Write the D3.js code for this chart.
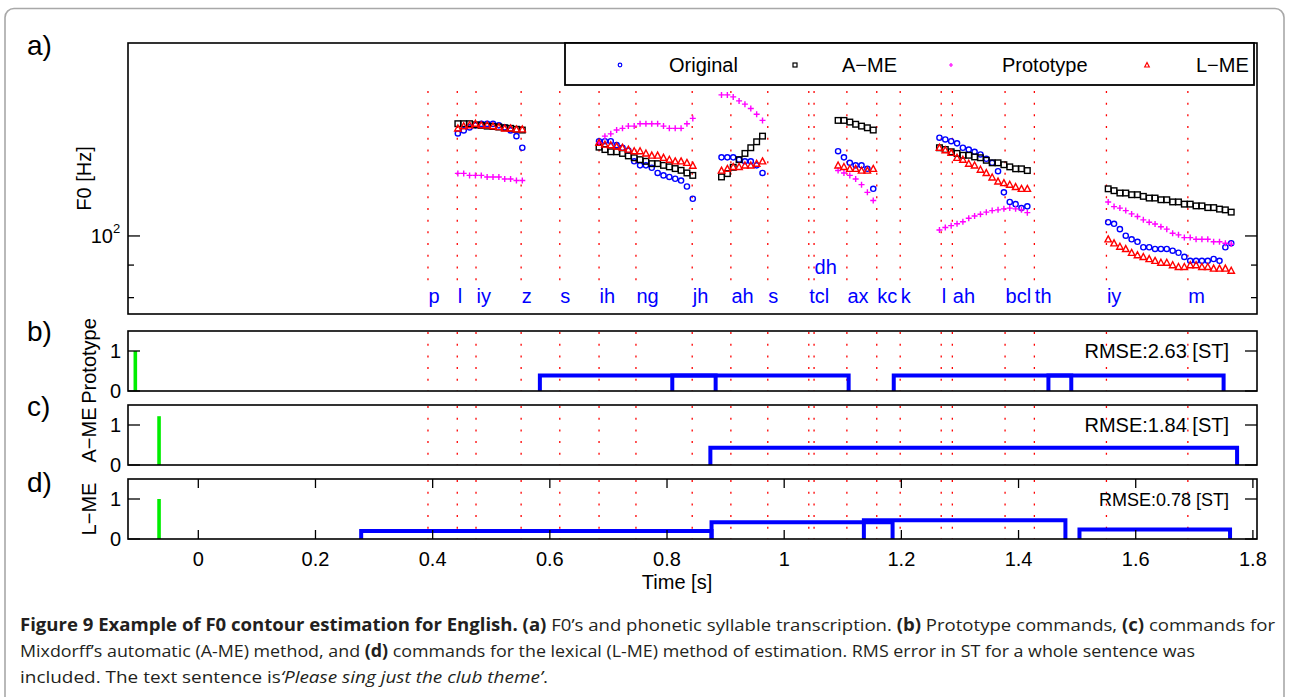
<!DOCTYPE html>
<html><head><meta charset="utf-8">
<script src="https://cdn.jsdelivr.net/npm/d3@7"></script>
<style>body{margin:0;background:#fff}svg{display:block}</style>
</head><body>
<svg id="fig" width="1290" height="697"></svg>
<script>
// ---------------- data ----------------
const boundaries = [0.392,0.442,0.474,0.551,0.617,0.684,0.747,0.843,0.909,0.972,1.042,1.051,1.107,1.158,1.198,1.268,1.287,1.377,1.427,1.550,1.689];
const phoneLabels = ["p","l","iy","z","s","ih","ng","jh","ah","s","tcl","dh","ax","kc","k","l","ah","bcl","th","iy","m"];
const phoneRaised = [0,0,0,0,0,0,0,0,0,0,0,1,0,0,0,0,0,0,0,0,0];
const boundaryRangeHz = [85, 169];
const segStart = [0.443, 0.684, 0.893, 1.092, 1.265, 1.553];
const frameStep = 0.01;
const original = [
 [144.9,146.5,148.1,149.2,150.0,150.0,150.0,149.2,148.1,146.5,143.5,137.6],
 [140.9,140.9,140.9,138.9,137.6,136.2,131.0,129.1,129.1,128.0,125.6,124.5,123.8,123.0,122.2,119.6,114.4],
 [132.9,132.9,132.9,131.8,131.0,131.0,129.1,125.6],
 [135.9,132.9,130.3,129.1,129.1,127.5,118.6],
 [142.7,141.8,140.9,139.8,137.6,136.7,135.6,134.3,132.2,130.3,126.4,117.1,113.1,112.2,110.6,111.3],
 [105.1,104.5,102.5,100.1,98.8,97.9,96.0,96.0,95.4,95.4,95.4,94.8,94.1,92.7,91.4,91.4,91.4,91.4,92.0,91.4,96.0,97.4]
];
const ame = [
 [150.1,150.1,150.1,149.5,149.2,148.8,148.6,148.3,147.9,147.6,147.1,146.7],
 [137.9,136.7,135.6,135.6,134.8,133.6,132.7,131.8,131.0,129.9,129.9,129.1,128.4,127.6,126.8,125.6,124.5],
 [123.8,125.3,128.2,131.8,134.8,137.6,140.6,143.5],
 [151.9,151.9,151.0,149.8,148.8,147.9,146.7],
 [137.6,136.7,135.6,134.8,133.9,133.9,133.1,132.7,131.5,130.3,130.3,129.4,128.4,127.5,127.5,126.7],
 [118.6,117.8,116.8,116.8,116.1,116.1,115.4,114.7,114.7,114.0,114.0,113.1,113.1,112.2,112.2,111.5,111.5,110.8,110.8,110.2,109.9,109.0]
];
const prototype = [
 [125.4,125.4,124.5,124.5,124.5,123.8,123.8,123.8,122.9,122.9,122.2,122.2],
 [140.1,143.5,144.7,146.7,147.6,148.8,148.8,150.1,150.1,150.1,150.1,148.8,147.6,147.6,147.6,150.1,153.0],
 [166.6,166.6,165.4,163.0,161.1,158.6,155.3,151.9],
 [126.7,125.6,124.5,122.9,120.4,117.1,113.7],
 [102.2,103.1,103.8,104.5,105.3,106.6,107.5,108.2,109.0,109.6,109.9,110.3,110.6,110.3,109.9,108.8],
 [113.1,111.2,110.6,109.6,108.3,107.3,106.0,105.1,104.4,103.4,102.5,101.0,100.4,99.4,99.4,98.8,98.8,98.8,97.9,97.9,97.4,97.1]
];
const lme = [
 [147.6,148.8,149.3,150.1,149.3,149.3,148.8,148.3,147.6,147.6,147.1,147.1],
 [140.1,139.2,138.9,138.3,137.6,136.7,135.9,135.9,134.8,133.8,133.8,132.7,131.8,131.0,131.0,130.3,129.0],
 [126.7,127.5,128.4,128.4,129.1,129.1,129.9,131.0],
 [129.1,128.4,127.5,127.5,126.7,126.7,127.5],
 [137.6,136.4,135.1,132.7,131.8,129.9,129.1,127.1,125.6,123.6,121.8,121.1,120.4,119.4,118.6,118.6],
 [98.8,97.4,96.2,95.4,94.1,93.3,92.7,92.0,91.4,90.8,90.8,90.0,89.4,89.4,90.0,90.0,89.4,89.4,88.9,88.9,88.9,88.2]
];
const seriesNames = ["Original","A\u2212ME","Prototype","L\u2212ME"];
// accent commands: [onset, offset, amplitude]
const protoCmds = [[0.583,0.883,0.39],[0.809,1.110,0.39],[1.187,1.490,0.39],[1.451,1.750,0.39]];
const ameCmds   = [[0.874,1.773,0.43]];
const lmeCmds   = [[0.278,0.876,0.20],[0.876,1.185,0.42],[1.136,1.480,0.47],[1.504,1.761,0.24]];
// phrase commands: [time, amplitude]
const protoPhrase = [[-0.1075,1.0]];
const amePhrase   = [[-0.067,1.22]];
const lmePhrase   = [[-0.067,1.0]];
const rmseTexts = ["RMSE:2.63 [ST]","RMSE:1.84 [ST]","RMSE:0.78 [ST]"];
const xTickValues = [0,0.2,0.4,0.6,0.8,1,1.2,1.4,1.6,1.8];
const yTickMajorA = [100];
const yTickMinorA = [80,90];
const yTicksCmd = [0,1];

// ---------------- layout ----------------
const svg = d3.select("#fig");
const FONT = "'Liberation Sans', Arial, Helvetica, sans-serif";
const L = 128, R = 1257;
const x = d3.scaleLinear().domain([-0.12, 1.807]).range([L, R]);
const aTop = 43, aBot = 314;
const yA = d3.scaleLog().domain([75.4, 201]).range([aBot, aTop]);

// outer figure border
svg.append("rect").attr("x",5).attr("y",8.5).attr("width",1279).attr("height",760)
  .attr("rx",9).attr("fill","none").attr("stroke","#a8a8a8").attr("stroke-width",1.6);

// ---------- panel a ----------
const gA = svg.append("g");
// dotted boundaries
gA.selectAll("line.bd").data(boundaries).join("line")
  .attr("x1",d=>x(d)).attr("x2",d=>x(d))
  .attr("y1",yA(boundaryRangeHz[1])).attr("y2",yA(boundaryRangeHz[0]))
  .attr("stroke","#ff0000").attr("stroke-width",1.3).attr("stroke-dasharray","2,9.7");

// phone labels
gA.selectAll("text.ph").data(phoneLabels).join("text")
  .attr("x",(d,i)=>x(boundaries[i])+0.5)
  .attr("y",(d,i)=>phoneRaised[i] ? aBot-40 : aBot-11)
  .attr("font-family",FONT).attr("font-size",20).attr("fill","#0000ff")
  .text(d=>d);

function pts(arr){
  const out=[];
  arr.forEach((seg,s)=>seg.forEach((v,i)=>out.push([segStart[s]+i*frameStep, v])));
  return out;
}
// Original circles
gA.selectAll("circle.orig").data(pts(original)).join("circle")
  .attr("cx",d=>x(d[0])).attr("cy",d=>yA(d[1])).attr("r",2.6)
  .attr("fill","none").attr("stroke","#0000ff").attr("stroke-width",1.4);
// A-ME squares
gA.selectAll("rect.ame").data(pts(ame)).join("rect")
  .attr("x",d=>x(d[0])-2.8).attr("y",d=>yA(d[1])-2.8).attr("width",5.6).attr("height",5.6)
  .attr("fill","none").attr("stroke","#000").attr("stroke-width",1.4);
// Prototype plus
gA.selectAll("path.pro").data(pts(prototype)).join("path")
  .attr("d",d=>{const cx=x(d[0]),cy=yA(d[1]);return `M${cx-3},${cy}H${cx+3}M${cx},${cy-3}V${cy+3}`;})
  .attr("stroke","#ff00ff").attr("stroke-width",1.4).attr("fill","none");
// L-ME triangles
gA.selectAll("path.lme").data(pts(lme)).join("path")
  .attr("d",d=>{const cx=x(d[0]),cy=yA(d[1]);return `M${cx},${cy-3.4}L${cx+3.2},${cy+2.6}L${cx-3.2},${cy+2.6}Z`;})
  .attr("stroke","#ff0000").attr("stroke-width",1.4).attr("fill","none");

// frame
gA.append("rect").attr("x",L).attr("y",aTop).attr("width",R-L).attr("height",aBot-aTop)
  .attr("fill","none").attr("stroke","#000").attr("stroke-width",1.6);
// y ticks (both sides, inward)
yTickMajorA.forEach(v=>{
  gA.append("line").attr("x1",L).attr("x2",L+12).attr("y1",yA(v)).attr("y2",yA(v)).attr("stroke","#000").attr("stroke-width",1.3);
  gA.append("line").attr("x1",R).attr("x2",R-12).attr("y1",yA(v)).attr("y2",yA(v)).attr("stroke","#000").attr("stroke-width",1.3);
  const t = gA.append("text").attr("x",L-15).attr("y",yA(v)+7).attr("text-anchor","end")
    .attr("font-family",FONT).attr("font-size",20).text("10");
  gA.append("text").attr("x",L-15).attr("y",yA(v)-3).attr("font-family",FONT).attr("font-size",13).text("2");
});
yTickMinorA.forEach(v=>{
  gA.append("line").attr("x1",L).attr("x2",L+6).attr("y1",yA(v)).attr("y2",yA(v)).attr("stroke","#000").attr("stroke-width",1.3);
  gA.append("line").attr("x1",R).attr("x2",R-6).attr("y1",yA(v)).attr("y2",yA(v)).attr("stroke","#000").attr("stroke-width",1.3);
});
gA.append("text").attr("transform",`translate(91,${(aTop+aBot)/2}) rotate(-90)`)
  .attr("text-anchor","middle").attr("font-family",FONT).attr("font-size",20).text("F0 [Hz]");
svg.append("text").attr("x",27).attr("y",55).attr("font-family",FONT).attr("font-size",28).text("a)");

// legend
const lg = svg.append("g");
lg.append("rect").attr("x",565).attr("y",aTop).attr("width",689).attr("height",42)
  .attr("fill","#fff").attr("stroke","#000").attr("stroke-width",1.8);
const legMarkX = [620,795,951,1147], legTextX = [669,842,1002,1196], legY = 65;
lg.append("circle").attr("cx",legMarkX[0]).attr("cy",legY).attr("r",1.8).attr("fill","none").attr("stroke","#0000ff").attr("stroke-width",1.2);
lg.append("rect").attr("x",legMarkX[1]-2).attr("y",legY-2).attr("width",4).attr("height",4).attr("fill","none").attr("stroke","#000").attr("stroke-width",1.2);
lg.append("path").attr("d",`M${legMarkX[2]-2},${legY}H${legMarkX[2]+2}M${legMarkX[2]},${legY-2}V${legY+2}`).attr("stroke","#ff00ff").attr("stroke-width",1.2);
lg.append("path").attr("d",`M${legMarkX[3]},${legY-2.5}L${legMarkX[3]+2.3},${legY+2}L${legMarkX[3]-2.3},${legY+2}Z`).attr("fill","none").attr("stroke","#ff0000").attr("stroke-width",1.2);
lg.selectAll("text").data(seriesNames).join("text")
  .attr("x",(d,i)=>legTextX[i]).attr("y",legY+7).attr("font-family",FONT).attr("font-size",20).text(d=>d);

// ---------- command panels ----------
const panels = [
  {top:331, bot:391, tag:"b)", tagY:341, ylabel:"Prototype", cmds:protoCmds, phrase:protoPhrase, rmse:rmseTexts[0], rmseSize:20},
  {top:405, bot:465, tag:"c)", tagY:416, ylabel:"A\u2212ME", cmds:ameCmds, phrase:amePhrase, rmse:rmseTexts[1], rmseSize:20},
  {top:479, bot:539, tag:"d)", tagY:492, ylabel:"L\u2212ME", cmds:lmeCmds, phrase:lmePhrase, rmse:rmseTexts[2], rmseSize:18, xaxis:true}
];
panels.forEach(p=>{
  const g = svg.append("g");
  const y = d3.scaleLinear().domain([0,1.5]).range([p.bot,p.top]);
  g.selectAll("line.bd").data(boundaries).join("line")
    .attr("x1",d=>x(d)).attr("x2",d=>x(d)).attr("y1",y(1.5)+1).attr("y2",y(0))
    .attr("stroke","#ff0000").attr("stroke-width",1.3).attr("stroke-dasharray","2,9.7");
  g.selectAll("line.ph").data(p.phrase).join("line")
    .attr("x1",d=>x(d[0])).attr("x2",d=>x(d[0])).attr("y1",y(0)).attr("y2",d=>y(d[1]))
    .attr("stroke","#00ee00").attr("stroke-width",3.6);
  g.selectAll("path.cmd").data(p.cmds).join("path")
    .attr("d",d=>`M${x(d[0])},${y(0)}V${y(d[2])}H${x(d[1])}V${y(0)}`)
    .attr("fill","none").attr("stroke","#0000ff").attr("stroke-width",4).attr("stroke-linejoin","miter");
  g.append("rect").attr("x",L).attr("y",p.top).attr("width",R-L).attr("height",p.bot-p.top)
    .attr("fill","none").attr("stroke","#000").attr("stroke-width",1.6);
  yTicksCmd.forEach(v=>{
    g.append("line").attr("x1",L).attr("x2",L+12).attr("y1",y(v)).attr("y2",y(v)).attr("stroke","#000").attr("stroke-width",1.3);
    g.append("line").attr("x1",R).attr("x2",R-12).attr("y1",y(v)).attr("y2",y(v)).attr("stroke","#000").attr("stroke-width",1.3);
    g.append("text").attr("x",L-7).attr("y",y(v)+7).attr("text-anchor","end")
      .attr("font-family",FONT).attr("font-size",20).text(v);
  });
  g.append("text").attr("x",1229).attr("y",y(1)+7).attr("text-anchor","end")
    .attr("font-family",FONT).attr("font-size",p.rmseSize).text(p.rmse);
  g.append("text").attr("transform",`translate(96,${(p.top+p.bot)/2}) rotate(-90)`)
    .attr("text-anchor","middle").attr("font-family",FONT).attr("font-size",20).text(p.ylabel);
  svg.append("text").attr("x",27).attr("y",p.tagY).attr("font-family",FONT).attr("font-size",28).text(p.tag);
  if(p.xaxis){
    xTickValues.forEach(v=>{
      g.append("line").attr("x1",x(v)).attr("x2",x(v)).attr("y1",p.bot).attr("y2",p.bot-9).attr("stroke","#000").attr("stroke-width",1.3);
      g.append("line").attr("x1",x(v)).attr("x2",x(v)).attr("y1",p.top).attr("y2",p.top+9).attr("stroke","#000").attr("stroke-width",1.3);
      g.append("text").attr("x",x(v)).attr("y",p.bot+27).attr("text-anchor","middle")
        .attr("font-family",FONT).attr("font-size",20).text(String(+v.toFixed(1)));
    });
    g.append("text").attr("x",677).attr("y",589).attr("text-anchor","middle")
      .attr("font-family",FONT).attr("font-size",20).text("Time [s]");
  }
});

// ---------- caption ----------
const CF = "'Open Sans','Noto Sans',sans-serif";
const capLines = [
  {y:631, len:1255, parts:[["Figure 9 Example of F0 contour estimation for English.","b"],[" ",""],["(a)","b"],[" F0\u2019s and phonetic syllable transcription. ",""],["(b)","b"],[" Prototype commands, ",""],["(c)","b"],[" commands for",""]]},
  {y:657, len:1175, parts:[["Mixdorff\u2019s automatic (A-ME) method, and ",""],["(d)","b"],[" commands for the lexical (L-ME) method of estimation. RMS error in ST for a whole sentence was",""]]},
  {y:683, len:528, parts:[["included. The text sentence is",""],["\u2018Please sing just the club theme\u2019","i"],[".",""]]}
];
capLines.forEach(l=>{
  const t = svg.append("text").attr("x",20).attr("y",l.y).attr("font-family",CF).attr("font-size",17)
    .attr("fill","#231f20").attr("textLength",l.len).attr("lengthAdjust","spacingAndGlyphs");
  l.parts.forEach(p=>{
    t.append("tspan").attr("font-weight",p[1]==="b"?"bold":null).attr("font-style",p[1]==="i"?"italic":null)
      .attr("xml:space","preserve").text(p[0]);
  });
});
</script>
</body></html>
